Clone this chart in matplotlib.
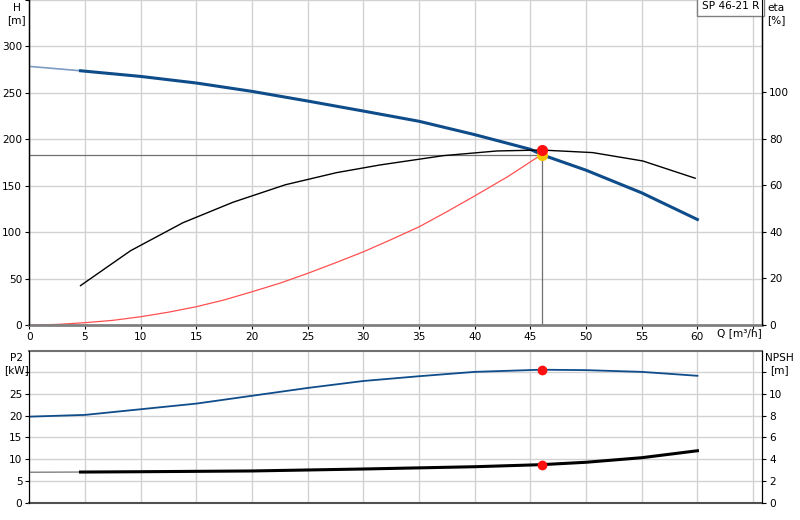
import numpy as np
import matplotlib
matplotlib.use("Agg")
from matplotlib import pyplot as plt

plt.rcParams['font.family'] = ['DejaVu Sans']
plt.rcParams['font.size'] = 7.6

# pump curves (Q in m3/h)
q_h_ext = [0, 4.6]
h_ext = [278.5, 273.8]
q_h = [4.6, 10, 15, 20, 25, 30, 35, 40, 45, 46, 50, 55, 60]
h = [273.8, 267.7, 260.6, 251.6, 241.2, 230.4, 219.4, 205.0, 189.2, 183.5, 166.7, 142.3, 113.6]

q_eta = [4.6, 9.1, 13.8, 18.3, 23.0, 27.6, 31.5, 37.2, 42.0, 46.0, 50.6, 55.1, 59.8]
eta = [16.9, 31.9, 43.9, 52.7, 60.2, 65.4, 68.7, 72.7, 74.7, 75.1, 74.0, 70.4, 63.0]

q_sys = [0, 2.5, 5, 7.5, 10, 12.5, 15, 17.5, 20, 22.5, 25, 27.5, 30, 32.5, 35, 37.5, 40, 43, 46]
h_sys = [0, 0.6, 2.5, 5.0, 8.9, 13.8, 19.7, 27.0, 35.8, 45.0, 55.6, 67.0, 78.8, 92.0, 105.7, 122.0, 139.0, 160.0, 183.5]

q_p2 = [0, 5, 10, 15, 20, 25, 30, 35, 40, 46, 50, 55, 60]
p2 = [19.8, 20.2, 21.5, 22.8, 24.6, 26.4, 28.0, 29.1, 30.1, 30.6, 30.5, 30.1, 29.2]

q_npsh_ext = [0, 4.6]
npsh_ext = [2.80, 2.82]
q_npsh = [4.6, 10, 20, 30, 40, 46, 50, 55, 60]
npsh = [2.82, 2.85, 2.92, 3.10, 3.31, 3.50, 3.72, 4.14, 4.78]

# duty point
q_op, h_op, eta_op, p2_op, npsh_op = 46, 183.5, 75.1, 30.6, 3.50

x_ticks = [0, 5, 10, 15, 20, 25, 30, 35, 40, 45, 50, 55, 60]
x_lim = (0, 65.8)

blue = "#0f4c8a"
grid_c = "#d2d2d2"

fig = plt.figure(figsize=(8, 5.2), dpi=100)
ax1 = fig.add_axes([0.0366, 0.375, 0.9159, 0.625])
ax2 = fig.add_axes([0.0366, 0.0333, 0.9159, 0.2925])

# ---- top panel: H and eta
ax1.set_xlim(*x_lim)
ax1.set_ylim(0, 350)
ax1.set_xticks(np.arange(0, 66, 5))
ax1.set_xticklabels([str(t) for t in x_ticks] + [""])
ax1.set_yticks([0, 50, 100, 150, 200, 250, 300, 350])
ax1.set_yticklabels(["0", "50", "100", "150", "200", "250", "300", ""])
ax1.grid(True, color=grid_c, lw=1)
ax1.set_axisbelow(True)
ax1.tick_params(length=3, width=0.8, pad=2)
ax1.spines['top'].set_visible(False)
ax1.spines['bottom'].set_color("#808080")
ax1.spines['bottom'].set_linewidth(2)
ax1.spines['left'].set_linewidth(1)
ax1.spines['right'].set_linewidth(1)

ax1.plot(q_h_ext, h_ext, color="#7f9cc0", lw=1.2)
ax1.plot(q_h, h, color=blue, lw=2.2)
ax1.plot(q_sys, h_sys, color="#ff5050", lw=0.9)
ax1.plot([0, q_op], [h_op, h_op], color="#707070", lw=0.9)
ax1.plot([q_op, q_op], [0, h_op], color="#707070", lw=0.9)

ax1e = ax1.twinx()
ax1e.set_ylim(0, 139.5)
ax1e.set_yticks([0, 20, 40, 60, 80, 100])
ax1e.tick_params(length=3, width=0.8, pad=2)
ax1e.spines['top'].set_visible(False)
ax1e.spines['bottom'].set_visible(False)
ax1e.plot(q_eta, eta, color="black", lw=1.0)

ax1.plot([q_op], [h_op], "o", color="#f5c400", ms=7, zorder=5)
ax1e.plot([q_op], [eta_op], "o", color="#ff1010", ms=7, zorder=6)

fig.text(0.021, 0.995, "H\n[m]", ha="center", va="top", linespacing=1.3)
fig.text(0.97, 0.995, "eta\n[%]", ha="center", va="top", linespacing=1.3)
fig.text(0.924, 0.359, "Q [m³/h]", ha="center", va="center")
ax1.text(0.996, 0.996, "SP 46-21 R", transform=ax1.transAxes, ha="right", va="top",
         bbox=dict(boxstyle="square,pad=0.45", fc="white", ec="#808080", lw=1))

# ---- bottom panel: P2 and NPSH
ax2.set_xlim(*x_lim)
ax2.set_ylim(0, 35)
ax2.set_xticks(np.arange(0, 66, 5))
ax2.set_xticklabels([])
ax2.tick_params(axis='x', length=0)
ax2.set_yticks([0, 5, 10, 15, 20, 25, 30])
ax2.set_yticklabels(["0", "5", "10", "15", "20", "25", ""])
ax2.tick_params(axis='y', length=3, width=0.8, pad=2)
ax2.grid(True, color=grid_c, lw=1)
ax2.set_axisbelow(True)
ax2.spines['top'].set_color("#707070")
ax2.spines['top'].set_linewidth(1.5)
ax2.spines['bottom'].set_color("#505050")
ax2.spines['bottom'].set_linewidth(1.5)

ax2.plot(q_p2, p2, color=blue, lw=1.3)

ax2n = ax2.twinx()
ax2n.set_ylim(0, 14)
ax2n.set_yticks([0, 2, 4, 6, 8, 10, 12])
ax2n.set_yticklabels(["0", "2", "4", "6", "8", "10", ""])
ax2n.tick_params(length=3, width=0.8, pad=2)
ax2n.spines['top'].set_visible(False)
ax2n.spines['bottom'].set_visible(False)
ax2n.plot(q_npsh_ext, npsh_ext, color="#808080", lw=1)
ax2n.plot(q_npsh, npsh, color="black", lw=2.2)

ax2.plot([q_op], [p2_op], "o", color="#ff1010", ms=6, zorder=5)
ax2n.plot([q_op], [npsh_op], "o", color="#ff1010", ms=6, zorder=5)

fig.text(0.021, 0.322, "P2\n[kW]", ha="center", va="top", linespacing=1.3)
fig.text(0.974, 0.322, "NPSH\n[m]", ha="center", va="top", linespacing=1.3)

plt.savefig("out.png", dpi=100)
